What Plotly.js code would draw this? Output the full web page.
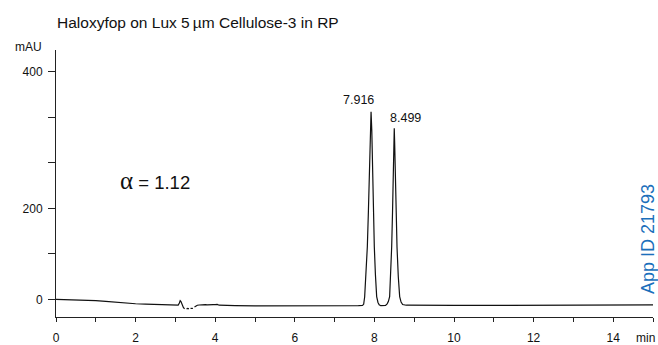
<!DOCTYPE html>
<html><head><meta charset="utf-8">
<script src="https://cdn.plot.ly/plotly-3.0.1.min.js"></script>
<style>html,body{margin:0;padding:0;background:#fff}#chart{width:658px;height:345px}</style>
</head><body><div id="chart"></div>
<script>
// Retention time (min) and detector signal (mAU); null = gap in the trace
const timeMin = [0,0.25,0.5,0.75,1.0,1.25,1.5,1.75,2.0,2.25,2.5,2.75,3.0,3.07,3.1,3.12,3.14,3.17,3.2,3.23,null,3.28,3.31,3.34,null,3.38,3.41,3.44,null,3.48,3.51,3.55,3.6,3.65,3.7,3.75,3.8,3.85,3.9,3.95,4.0,4.05,4.1,4.2,4.5,5.0,5.5,6.0,6.5,7.0,7.4,7.6,7.7,7.73,7.755,7.79,7.822,7.85,7.872,7.897,7.916,7.935,7.956,7.978,7.998,8.025,8.057,8.09,8.12,8.16,8.22,8.28,8.32,8.35,8.383,8.41,8.434,8.455,8.475,8.49,8.499,8.51,8.525,8.545,8.568,8.60,8.635,8.67,8.71,8.8,9.0,10.0,11.0,12.0,12.8,13.2,13.6,14.0,14.5,15.0];
const signalMAU = [0,-0.3,-0.8,-1.5,-2.8,-4.5,-6.5,-8.3,-9.8,-10.8,-11.6,-12.2,-12.5,-12.6,-8,-3,-5,-12,-18,-21,null,-21,-20,-21,null,-20,-19.5,-20,null,-17,-15,-13,-12.5,-12,-12.5,-11.8,-12.3,-11.6,-12,-11.5,-11.8,-11.2,-13,-13.6,-14,-14.3,-14.5,-14.6,-14.5,-14.3,-14.1,-14,-13.6,-11,5,50,115,195,262,370,412,370,262,180,115,55,6,-7,-12,-14,-14.5,-13.5,-10,-5,6,50,115,190,262,340,376,340,262,185,115,50,6,-6,-11.5,-13,-13.3,-13.5,-13.5,-13.5,-13.3,-12.5,-12.5,-13.2,-13,-12.3];

const peakTimes = [7.916, 8.499];
const peakHeights = [412, 376];
const peakLabels = ["7.916", "8.499"];

const xTickVals = [0,2,4,6,8,10,12,14];
const xLongTickVals = [0,10];
const yTickVals = [0,100,200,300,400,500];
const yTickText = ["0","","200","","","400"];

const FONT = '"Liberation Sans", Arial, Helvetica, sans-serif';
const AXC = '#222';

const trace = {
  x: timeMin, y: signalMAU, type: 'scatter', mode: 'lines',
  line: {color: '#111', width: 1.2}, connectgaps: false, hoverinfo: 'skip', showlegend: false
};

const annotations = [
  {x: peakTimes[0], y: peakHeights[0], xref: 'x', yref: 'y', text: peakLabels[0], showarrow: false,
   xanchor: 'right', yanchor: 'bottom', xshift: 5, yshift: 3, font: {family: FONT, size: 12.5, color: '#111'}},
  {x: peakTimes[1], y: peakHeights[1], xref: 'x', yref: 'y', text: peakLabels[1], showarrow: false,
   xanchor: 'left', yanchor: 'bottom', xshift: -6, yshift: 1, font: {family: FONT, size: 12.5, color: '#111'}},
  {x: -0.0469, y: 1.0112, xref: 'paper', yref: 'paper', text: 'mAU', showarrow: false,
   xanchor: 'center', yanchor: 'middle', font: {family: FONT, size: 12, color: '#111'}},
  {x: 0.9866, y: -0.0787, xref: 'paper', yref: 'paper', text: 'min', showarrow: false,
   xanchor: 'center', yanchor: 'middle', font: {family: FONT, size: 12, color: '#111'}},
  {x: 0.1039, y: 0.513, xref: 'paper', yref: 'paper',
   text: '<span style="font-family:\'Liberation Serif\', serif; font-size:25px">α</span> = 1.12',
   showarrow: false, xanchor: 'left', yanchor: 'middle', font: {family: FONT, size: 18.5, color: '#111'}},
  {x: 0.9916, y: 0.292, xref: 'paper', yref: 'paper', text: 'App ID 21793', textangle: -90, showarrow: false,
   xanchor: 'center', yanchor: 'middle', font: {family: FONT, size: 18, color: '#1b6fbb'}}
];

const layout = {
  width: 658, height: 345,
  margin: {l: 56, r: 5, t: 50, b: 28, pad: 0},
  paper_bgcolor: '#fff', plot_bgcolor: '#fff',
  title: {text: 'Haloxyfop on Lux 5\u2009µm Cellulose-3 in RP', x: 57/658, xanchor: 'left', xref: 'container',
          y: 1 - 23/345, yanchor: 'middle', yref: 'container', font: {family: FONT, size: 15.5, color: '#111'}},
  xaxis: {range: [0, 15], showline: true, linecolor: AXC, linewidth: 1, zeroline: false, showgrid: false,
          tickmode: 'array', tickvals: xTickVals, ticks: 'outside', ticklen: 4, tickwidth: 1, tickcolor: AXC,
          ticklabelstandoff: 6,
          tickfont: {family: FONT, size: 12, color: '#111'},
          minor: {dtick: 1, tick0: 0, ticks: 'outside', ticklen: 4, tickwidth: 1, tickcolor: AXC, showgrid: false}},
  xaxis2: {range: [0, 15], overlaying: 'x', anchor: 'y', side: 'bottom', showline: false, zeroline: false, showgrid: false,
           tickmode: 'array', tickvals: xLongTickVals, ticks: 'outside', ticklen: 8, tickwidth: 1, tickcolor: AXC,
           showticklabels: false},
  yaxis: {range: [-38.9, 547.9], showline: true, linecolor: AXC, linewidth: 1, zeroline: false, showgrid: false,
          tickmode: 'array', tickvals: yTickVals, ticktext: yTickText, ticks: 'outside', ticklen: 7, tickwidth: 1,
          ticklabelstandoff: 3,
          tickcolor: AXC, tickfont: {family: FONT, size: 12, color: '#111'}},
  annotations: annotations,
  showlegend: false
};

Plotly.newPlot('chart', [trace], layout, {staticPlot: true, displayModeBar: false});
</script>
</body></html>
